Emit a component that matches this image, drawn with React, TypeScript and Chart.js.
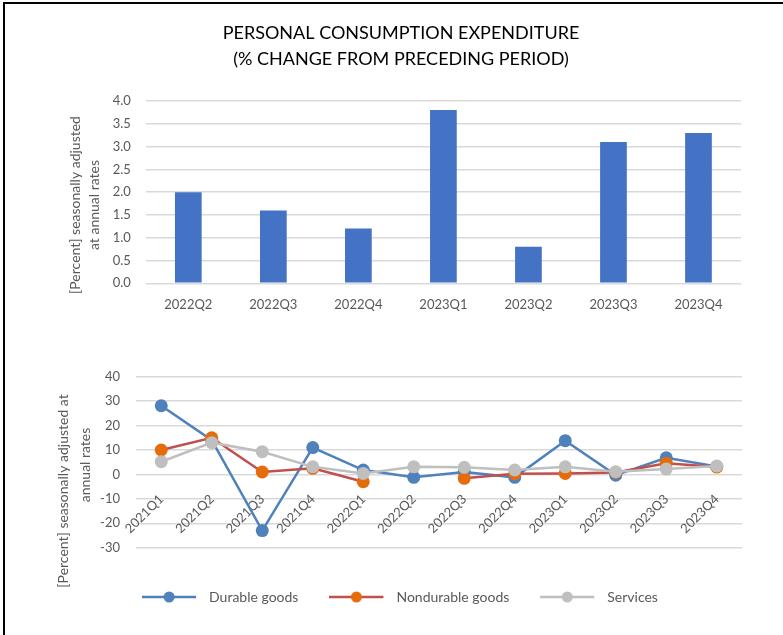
import React, { useEffect, useRef } from "react";
import { Chart, registerables } from "chart.js";

Chart.register(...registerables);

// ---------- data ----------
const pceQuarters = ["2022Q2", "2022Q3", "2022Q4", "2023Q1", "2023Q2", "2023Q3", "2023Q4"];
const pceChange = [2.0, 1.6, 1.2, 3.8, 0.8, 3.1, 3.3];
const pceTicks = [0, 0.5, 1.0, 1.5, 2.0, 2.5, 3.0, 3.5, 4.0];

const componentQuarters = [
  "2021Q1", "2021Q2", "2021Q3", "2021Q4",
  "2022Q1", "2022Q2", "2022Q3", "2022Q4",
  "2023Q1", "2023Q2", "2023Q3", "2023Q4",
];
const durableGoods = [28.1, 14.0, -23.0, 11.0, 1.8, -1.2, 1.0, -1.2, 13.8, -0.3, 6.8, 3.2];
const nondurableGoods = [10.0, 15.0, 1.0, 2.5, -3.0, null, -1.6, 0.3, 0.4, 0.8, 4.6, 3.0];
const services = [5.2, 13.0, 9.3, 3.1, 0.4, 3.1, 2.9, 1.8, 3.1, 1.1, 2.2, 3.4];
const componentTicks = [-30, -20, -10, 0, 10, 20, 30, 40];

const seriesNames = ["Durable goods", "Nondurable goods", "Services"];
const titleLines = ["PERSONAL CONSUMPTION EXPENDITURE", "(% CHANGE FROM PRECEDING PERIOD)"];
const topAxisTitle = ["[Percent] seasonally adjusted", "at annual rates"];
const bottomAxisTitle = ["[Percent] seasonally adjusted at", "annual rates"];

// ---------- styles ----------
const FONT = "Lato, 'Noto Sans', sans-serif";
const TEXT = "#595959";
const GRID = "#d9d9d9";
const BAR = "#4472C4";
const LINE_COLORS = ["#4F81BD", "#C0504D", "#BFBFBF"];
const DOT_COLORS = ["#4F81BD", "#E46C0A", "#BFBFBF"];

function makeSideTitle(lines: { text: string; x: number; y: number }[]) {
  return {
    id: "sideTitle",
    afterDraw(chart: any) {
      const ctx = chart.ctx as CanvasRenderingContext2D;
      ctx.save();
      ctx.font = `14px ${FONT}`;
      ctx.fillStyle = TEXT;
      ctx.textAlign = "center";
      ctx.textBaseline = "middle";
      for (const l of lines) {
        ctx.save();
        ctx.translate(l.x, l.y);
        ctx.rotate(-Math.PI / 2);
        ctx.fillText(l.text, 0, 0);
        ctx.restore();
      }
      ctx.restore();
    },
  };
}

function legendSwatch(line: string, dot: string): HTMLCanvasElement {
  const c = document.createElement("canvas");
  c.width = 60;
  c.height = 14;
  const g = c.getContext("2d")!;
  g.strokeStyle = line;
  g.lineWidth = 2.5;
  g.beginPath();
  g.moveTo(0, 7);
  g.lineTo(54, 7);
  g.stroke();
  g.fillStyle = dot;
  g.beginPath();
  g.arc(27, 7, 5.5, 0, Math.PI * 2);
  g.fill();
  return c;
}

export default function App() {
  const topRef = useRef<HTMLCanvasElement>(null);
  const botRef = useRef<HTMLCanvasElement>(null);

  useEffect(() => {
    const tickFont = { family: FONT, size: 13 };

    const top = new Chart(topRef.current!, {
      type: "bar",
      data: {
        labels: pceQuarters,
        datasets: [
          {
            data: pceChange,
            backgroundColor: BAR,
            barPercentage: 0.314,
            categoryPercentage: 1,
          },
        ],
      },
      options: {
        animation: false,
        responsive: false,
        devicePixelRatio: 1,
        layout: { padding: { left: 61, right: 42, top: 0, bottom: 311.7 } },
        plugins: {
          legend: { display: false },
          tooltip: { enabled: false },
          title: {
            display: true,
            text: titleLines,
            color: "#000",
            font: { family: FONT, size: 18, weight: "normal", lineHeight: 26 / 18 },
            padding: { top: 20, bottom: 29 },
          },
        },
        scales: {
          x: {
            grid: { display: false, drawTicks: false },
            border: { display: false },
            ticks: { color: TEXT, font: tickFont, padding: 14 },
            afterFit: (s: any) => {
              s.height = 40;
            },
          },
          y: {
            min: 0,
            max: 4,
            afterBuildTicks: (s: any) => {
              s.ticks = pceTicks.map((v) => ({ value: v }));
            },
            grid: { color: GRID, lineWidth: 1.5, drawTicks: false },
            border: { display: false },
            ticks: {
              color: TEXT,
              font: tickFont,
              padding: 15,
              callback: (v: any) => Number(v).toFixed(1),
            },
            afterFit: (s: any) => {
              s.width = 84.8;
            },
          },
        },
      },
      plugins: [
        makeSideTitle([
          { text: topAxisTitle[0], x: 75, y: 205 },
          { text: topAxisTitle[1], x: 94, y: 205 },
        ]),
      ],
    } as any);

    const seriesData = [durableGoods, nondurableGoods, services];
    const swatches = seriesData.map((_, i) => legendSwatch(LINE_COLORS[i], DOT_COLORS[i]));

    const bot = new Chart(botRef.current!, {
      type: "line",
      data: {
        labels: componentQuarters,
        datasets: seriesData.map((d, i) => ({
          label: seriesNames[i],
          data: d,
          borderColor: LINE_COLORS[i],
          backgroundColor: DOT_COLORS[i],
          pointBackgroundColor: DOT_COLORS[i],
          pointBorderColor: DOT_COLORS[i],
          pointBorderWidth: 0,
          pointRadius: 6.5,
          pointHoverRadius: 6.5,
          borderWidth: 2.5,
          tension: 0,
          spanGaps: false,
          order: 3 - i,
        })),
      },
      options: {
        animation: false,
        responsive: false,
        devicePixelRatio: 1,
        layout: { padding: { left: 58, right: 41, top: 376.7, bottom: 21 } },
        plugins: {
          tooltip: { enabled: false },
          legend: {
            position: "bottom",
            title: {
              display: true,
              text: "",
              font: { size: 1, lineHeight: 1 },
              padding: { top: 0, bottom: 10.3 },
            },
            labels: {
              usePointStyle: true,
              pointStyleWidth: 60,
              padding: 31,
              color: TEXT,
              font: { family: FONT, size: 14 },
              generateLabels: (chart: any) =>
                chart.data.datasets.map((ds: any, i: number) => ({
                  text: ds.label,
                  fillStyle: DOT_COLORS[i],
                  strokeStyle: LINE_COLORS[i],
                  lineWidth: 0,
                  pointStyle: swatches[i],
                  datasetIndex: i,
                  hidden: false,
                  fontColor: TEXT,
                })),
            },
          },
        },
        scales: {
          x: {
            position: { y: 0 },
            offset: true,
            grid: { display: false, drawTicks: false },
            border: { display: false },
            ticks: {
              color: TEXT,
              font: tickFont,
              padding: 17,
              minRotation: 45,
              maxRotation: 45,
              autoSkip: false,
            },
          },
          y: {
            min: -30,
            max: 40,
            afterBuildTicks: (s: any) => {
              s.ticks = componentTicks.map((v) => ({ value: v }));
            },
            grid: { color: GRID, lineWidth: 1.5, drawTicks: false },
            border: { display: false },
            ticks: { color: TEXT, font: tickFont, padding: 16 },
            afterFit: (s: any) => {
              s.width = 78;
            },
          },
        },
      },
      plugins: [
        makeSideTitle([
          { text: bottomAxisTitle[0], x: 63, y: 491 },
          { text: bottomAxisTitle[1], x: 85, y: 465 },
        ]),
      ],
    } as any);

    return () => {
      top.destroy();
      bot.destroy();
    };
  }, []);

  return (
    <div
      style={{
        position: "fixed",
        left: 0,
        top: 0,
        width: 783,
        height: 635,
        background: "#fff",
        overflow: "hidden",
      }}
    >
      <canvas ref={topRef} width={783} height={635} style={{ position: "absolute", left: 0, top: 0 }} />
      <canvas ref={botRef} width={783} height={635} style={{ position: "absolute", left: 0, top: 0 }} />
      <div
        style={{
          position: "absolute",
          left: 3,
          top: 2,
          right: -10,
          bottom: -10,
          borderTop: "2px solid #000",
          borderLeft: "2px solid #000",
          pointerEvents: "none",
        }}
      />
    </div>
  );
}
